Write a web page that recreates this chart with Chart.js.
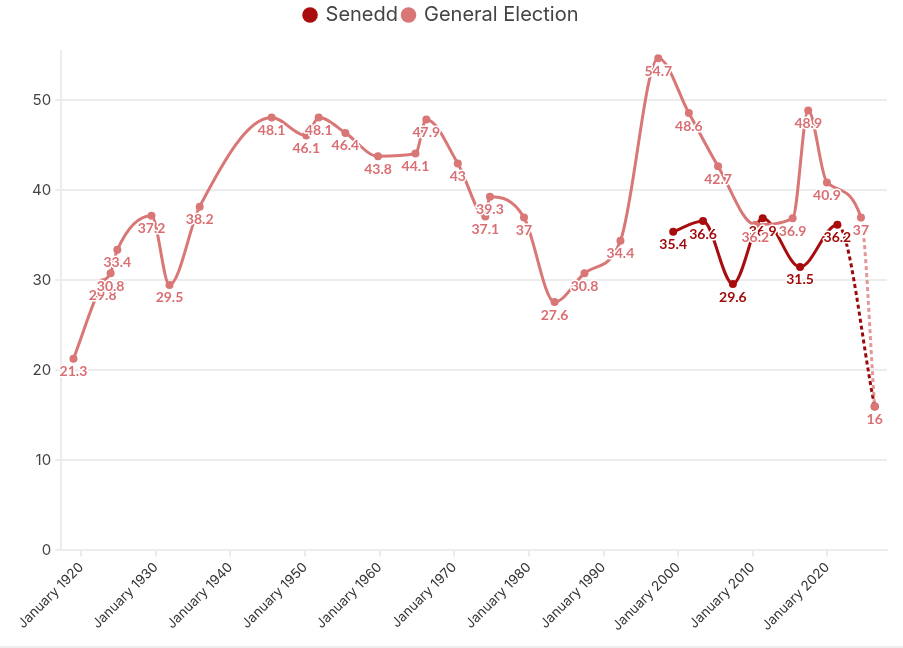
<!DOCTYPE html>
<html>
<head>
<meta charset="utf-8">
<script src="https://cdn.jsdelivr.net/npm/chart.js@4.4.1/dist/chart.umd.min.js"></script>
<style>
  html, body { margin: 0; padding: 0; background: #fff; }
  #wrap { width: 903px; height: 646px; border-bottom: 2px solid #efefef; }
</style>
</head>
<body>
<div id="wrap"><canvas id="chart"></canvas></div>
<script>
// election dates as decimal years
const generalYears = [1918.95, 1922.87, 1923.93, 1924.83, 1929.41, 1931.82, 1935.87, 1945.51, 1950.15, 1951.82,
  1955.4, 1959.77, 1964.79, 1966.25, 1970.47, 1974.16, 1974.78, 1979.34, 1983.44, 1987.45,
  1992.27, 1997.34, 2001.44, 2005.35, 2010.35, 2015.35, 2017.44, 2019.95, 2024.51, 2026.35];
const generalShare = [21.3, 29.8, 30.8, 33.4, 37.2, 29.5, 38.2, 48.1, 46.1, 48.1,
  46.4, 43.8, 44.1, 47.9, 43, 37.1, 39.3, 37, 27.6, 30.8,
  34.4, 54.7, 48.6, 42.7, 36.2, 36.9, 48.9, 40.9, 37, 16];

const seneddYears = [1999.34, 2003.34, 2007.34, 2011.34, 2016.35, 2021.35, 2026.35];
const seneddShare = [35.4, 36.6, 29.6, 36.9, 31.5, 36.2, 16];

const xTickYears = [1920, 1930, 1940, 1950, 1960, 1970, 1980, 1990, 2000, 2010, 2020];
const yTickValues = [0, 10, 20, 30, 40, 50];

const SENEDD = '#a80c0c';
const GENERAL = '#d97676';

function toPoints(xs, ys) {
  return xs.map((x, i) => ({ x: x, y: ys[i] }));
}

// last point of each series is a projection -> dashed segment
function dashLast(n, color) {
  return {
    borderDash: ctx => ctx.p1DataIndex === n - 1 ? [4, 3] : undefined,
    borderColor: ctx => ctx.p1DataIndex === n - 1 ? color : undefined
  };
}

// value labels under each point, with a white halo
const pointLabels = {
  id: 'pointLabels',
  afterDatasetsDraw(chart) {
    const ctx = chart.ctx;
    ctx.save();
    ctx.font = 'bold 14px Lato';
    ctx.textAlign = 'center';
    ctx.textBaseline = 'middle';
    ctx.lineJoin = 'round';
    for (let d = chart.data.datasets.length - 1; d >= 0; d--) {
      const ds = chart.data.datasets[d];
      const meta = chart.getDatasetMeta(d);
      meta.data.forEach((pt, i) => {
        const txt = String(ds.data[i].y);
        ctx.strokeStyle = '#fff';
        ctx.lineWidth = 3;
        ctx.strokeText(txt, pt.x, pt.y + 13);
        ctx.fillStyle = ds.labelColor;
        ctx.fillText(txt, pt.x, pt.y + 13);
      });
    }
    ctx.restore();
  }
};

// extra room between legend and plot, legend nudged a bit left
const legendSpacing = {
  id: 'legendSpacing',
  beforeInit(chart) {
    const fit = chart.legend.fit;
    chart.legend.fit = function () {
      fit.bind(chart.legend)();
      this.height += 16;
    };
  },
  afterLayout(chart) {
    chart.legend.left -= 16;
    chart.legend.right -= 16;
  }
};

new Chart(document.getElementById('chart'), {
  type: 'line',
  data: {
    datasets: [
      {
        label: 'General Election',
        data: toPoints(generalYears, generalShare),
        borderColor: GENERAL,
        backgroundColor: GENERAL,
        pointBackgroundColor: GENERAL,
        pointBorderWidth: 0,
        pointRadius: 4,
        borderWidth: 3,
        cubicInterpolationMode: 'monotone',
        labelColor: '#d96f73',
        segment: dashLast(generalShare.length, 'rgba(217,118,118,0.75)')
      },
      {
        label: 'Senedd',
        data: toPoints(seneddYears, seneddShare),
        borderColor: SENEDD,
        backgroundColor: SENEDD,
        pointBackgroundColor: SENEDD,
        pointBorderWidth: 0,
        pointRadius: 4,
        borderWidth: 3,
        cubicInterpolationMode: 'monotone',
        labelColor: '#a10a0a',
        segment: dashLast(seneddShare.length, '#9a0a0a')
      }
    ]
  },
  options: {
    responsive: true,
    maintainAspectRatio: false,
    animation: false,
    layout: { padding: { top: 0, left: 28, right: 16, bottom: 9 } },
    plugins: {
      legend: {
        position: 'top',
        reverse: true,
        labels: {
          usePointStyle: true,
          pointStyle: 'circle',
          boxWidth: 11,
          boxHeight: 11,
          padding: 5,
          color: '#444',
          font: { family: 'Inter', size: 20 }
        }
      },
      tooltip: { enabled: false }
    },
    scales: {
      x: {
        type: 'linear',
        min: 1917.3,
        max: 2028,
        afterBuildTicks: scale => {
          scale.ticks = xTickYears.map(v => ({ value: v }));
        },
        ticks: {
          minRotation: 45,
          maxRotation: 45,
          color: '#333',
          font: { family: 'Inter', size: 13.5 },
          callback: v => 'January ' + v
        },
        grid: {
          drawOnChartArea: false,
          drawTicks: true,
          tickLength: 6,
          color: '#ececec',
          lineWidth: 2
        },
        border: { color: '#ececec', width: 2 }
      },
      y: {
        min: 0,
        max: 55.5,
        afterBuildTicks: scale => {
          scale.ticks = yTickValues.map(v => ({ value: v }));
        },
        ticks: {
          color: '#444',
          padding: 4,
          font: { family: 'Inter', size: 15 }
        },
        grid: { color: '#ececec', lineWidth: 2, tickLength: 6 },
        border: { color: '#ececec', width: 2 }
      }
    }
  },
  plugins: [pointLabels, legendSpacing]
});
</script>
</body>
</html>
